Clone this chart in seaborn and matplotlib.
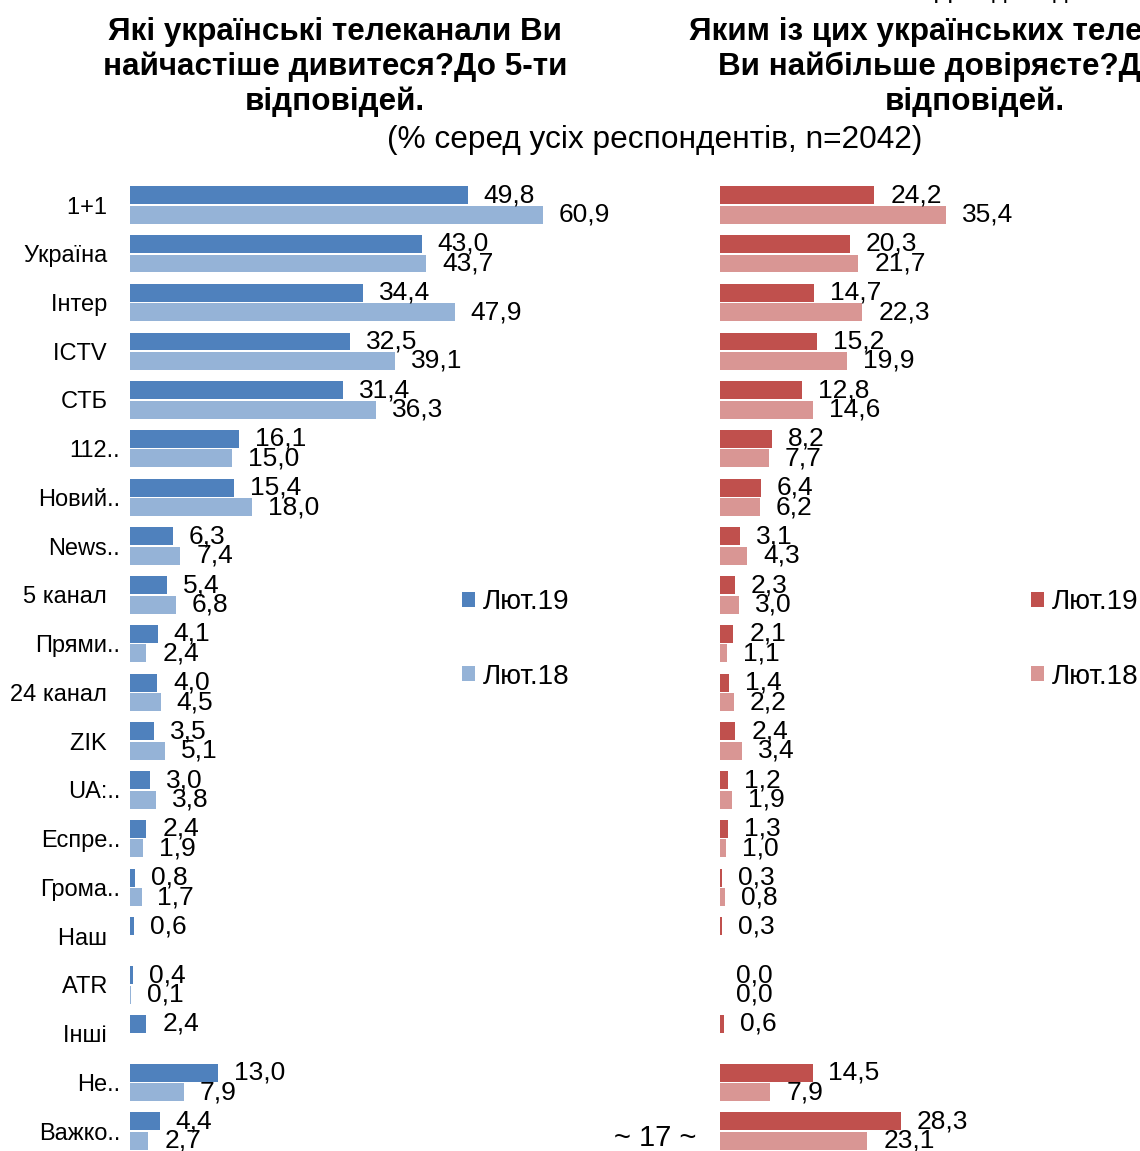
import numpy as np
import pandas as pd
import matplotlib
matplotlib.use("Agg")
import matplotlib.pyplot as plt
import seaborn as sns

# Categories (truncated labels as in the source chart)
channels = ["1+1", "Україна", "Інтер", "ICTV", "СТБ", "112..", "Новий..", "News..",
            "5 канал", "Прями..", "24 канал", "ZIK", "UA:..", "Еспре..", "Грома..",
            "Наш", "ATR", "Інші", "Не..", "Важко.."]
waves = ["Лют.19", "Лют.18"]

# Which channels do you watch most often (left panel)
watch_19 = [49.8, 43.0, 34.4, 32.5, 31.4, 16.1, 15.4, 6.3, 5.4, 4.1, 4.0, 3.5, 3.0,
            2.4, 0.8, 0.6, 0.4, 2.4, 13.0, 4.4]
watch_18 = [60.9, 43.7, 47.9, 39.1, 36.3, 15.0, 18.0, 7.4, 6.8, 2.4, 4.5, 5.1, 3.8,
            1.9, 1.7, np.nan, 0.1, np.nan, 7.9, 2.7]

# Which channels do you trust most (right panel)
trust_19 = [24.2, 20.3, 14.7, 15.2, 12.8, 8.2, 6.4, 3.1, 2.3, 2.1, 1.4, 2.4, 1.2,
            1.3, 0.3, 0.3, 0.0, 0.6, 14.5, 28.3]
trust_18 = [35.4, 21.7, 22.3, 19.9, 14.6, 7.7, 6.2, 4.3, 3.0, 1.1, 2.2, 3.4, 1.9,
            1.0, 0.8, np.nan, 0.0, np.nan, 7.9, 23.1]

blues = ["#4F81BD", "#95B3D7"]
reds = ["#C0504D", "#D99694"]


def to_long(v19, v18):
    return pd.DataFrame({
        "channel": channels * 2,
        "wave": [waves[0]] * len(channels) + [waves[1]] * len(channels),
        "value": list(v19) + list(v18),
    })


sns.set_theme(style="white")
plt.rcParams["font.family"] = ["Liberation Sans", "DejaVu Sans"]
plt.rcParams["text.color"] = "black"
plt.rcParams["ytick.color"] = "black"

W, H = 1140, 1151
fig = plt.figure(figsize=(W / 100, H / 100), dpi=100)

# axes boxes in pixels: x0 where bars start, px per unit, top/bottom of categorical band
row = 48.74
top_px = 205 - row / 2
bot_px = 205 + row * (len(channels) - 0.5)


def make_axes(x0, xmax, ppu):
    ax = fig.add_axes([x0 / W, 1 - bot_px / H, xmax * ppu / W, (bot_px - top_px) / H])
    ax.set_xlim(0, xmax)
    return ax


ax_l = make_axes(130, 70, 6.78)
ax_r = make_axes(720, 40, 6.38)

for ax, v19, v18, pal in [(ax_l, watch_19, watch_18, blues), (ax_r, trust_19, trust_18, reds)]:
    xmax = ax.get_xlim()[1]
    sns.barplot(data=to_long(v19, v18), y="channel", x="value", hue="wave",
                hue_order=waves, order=channels, orient="h", palette=pal,
                width=0.8, gap=0.08, linewidth=0, saturation=1, ax=ax)
    for cont in ax.containers:
        labels = []
        for b in cont:
            w = b.get_width()
            labels.append("" if np.isnan(w) else f"{w:.1f}".replace(".", ","))
        ax.bar_label(cont, labels=labels, padding=11.5, fontsize=19, color="black")
    ax.set_xlim(0, xmax)
    ax.set_ylim(len(channels) - 0.5, -0.5)
    ax.set_xticks([])
    ax.set_xlabel("")
    ax.set_ylabel("")
    sns.despine(ax=ax, left=True, bottom=True)
    ax.tick_params(axis="y", length=0)

# left axis: labels aligned on text, dotted ones hang past (spaces pad to dot width)
ax_l.set_yticks(range(len(channels)))
ax_l.set_yticklabels([c if c.endswith("..") else c + "  " for c in channels],
                     fontsize=17, color="black")
ax_l.tick_params(axis="y", pad=7)
ax_r.set_yticklabels([])

for ax, xpos in [(ax_l, 462), (ax_r, 1031)]:
    h, l = ax.get_legend_handles_labels()
    ax.get_legend().remove()
    fig.legend(h, l, loc="upper left", bbox_to_anchor=(xpos / W, 1 - 589 / H),
               frameon=False, fontsize=20, handlelength=0.45, handleheight=0.45,
               handletextpad=0.3, labelspacing=1.75, borderpad=0, borderaxespad=0)

title_kw = dict(ha="center", va="center", fontsize=22.6, fontweight="bold",
                linespacing=1.18, color="black")
fig.text(335 / W, 1 - 67 / H, "Які українські телеканали Ви\nнайчастіше дивитеся?До 5-ти\nвідповідей.", **title_kw)
fig.text(975 / W, 1 - 67 / H, "Яким із цих українських телеканалів\nВи найбільше довіряєте?До 5-ти\nвідповідей.", **title_kw)
fig.text(655 / W, 1 - 140 / H, "(% серед усіх респондентів, n=2042)", ha="center", va="center", fontsize=22.8)
fig.text(1140 / W, 1.0 + 2 / H, "Дані дослідження", ha="right", va="baseline", fontsize=18)
fig.text(655 / W, 1 - 1138 / H, "~ 17 ~", ha="center", va="center", fontsize=21)

fig.savefig("out.png", dpi=100)
